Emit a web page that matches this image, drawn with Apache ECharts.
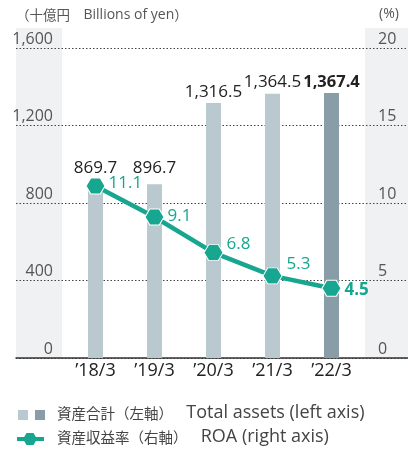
<!DOCTYPE html>
<html>
<head>
<meta charset="utf-8">
<script src="https://cdn.jsdelivr.net/npm/echarts@6/dist/echarts.min.js"></script>
<style>
html,body{margin:0;padding:0;background:#fff;}
#c{width:408px;height:450px;}
</style>
</head>
<body>
<div id="c"></div>
<script>
var categories = ['’18/3', '’19/3', '’20/3', '’21/3', '’22/3'];
var totalAssets = [869.7, 896.7, 1316.5, 1364.5, 1367.4];
var roa = [11.1, 9.1, 6.8, 5.3, 4.5];
var leftTicks = [0, 400, 800, 1200, 1600];
var rightTicks = [0, 5, 10, 15, 20];

var FONT = "'Open Sans', 'Noto Sans CJK JP', sans-serif";
var JFONT = "'Noto Sans CJK JP', sans-serif";
var TEAL = '#17a68f';
var BAR_LIGHT = '#bac9d0';
var BAR_DARK = '#889da7';
var BAND = '#f0f1f3';

var barLabelDist = [13, 8, 2, 3, 3];
var barData = totalAssets.map(function (v, i) {
  var last = i === totalAssets.length - 1;
  return {
    value: v,
    itemStyle: { color: last ? BAR_DARK : BAR_LIGHT },
    label: { distance: barLabelDist[i], fontWeight: last ? 'bold' : 'normal', fontSize: last ? 16.5 : 17 }
  };
});
var lineOffsets = [[-1, -3], [-1, -1], [-1, -8], [0, -12], [-1, 2]];
var lineData = roa.map(function (v, i) {
  var last = i === roa.length - 1;
  return {
    value: v,
    label: { offset: lineOffsets[i], fontWeight: last ? 'bold' : 'normal' }
  };
});

var hex = 'path://M0,5 L3,0 L9,0 L12,5 L9,10 L3,10 Z';

var legendRich = {
  j: { fontFamily: JFONT, fontSize: 14.5, fill: '#444', color: '#444' },
  e: { fontFamily: FONT, fontSize: 18, fill: '#444', color: '#444', padding: [0, 0, 0, 6] }
};

var chart = echarts.init(document.getElementById('c'), null, { renderer: 'canvas' });
chart.setOption({
  animation: false,
  textStyle: { fontFamily: FONT },
  grid: [
    { left: 66, right: 47, top: 48, height: 310, containLabel: false, outerBoundsMode: 'none' },
    { left: 16, right: 0, top: 48, height: 310, containLabel: false, outerBoundsMode: 'none' }
  ],
  graphic: [
    { type: 'rect', z: -10, shape: { x: 16, y: 28, width: 46, height: 330 }, style: { fill: BAND } },
    { type: 'rect', z: -10, shape: { x: 365, y: 28, width: 43, height: 330 }, style: { fill: BAND } },
    { type: 'text', x: 16, y: 8, style: { text: '{j|（十億円　}{e|Billions of yen}{j|）}', rich: {
      j: { fontFamily: JFONT, fontSize: 13.5, fill: '#555' }, e: { fontFamily: FONT, fontSize: 14, fill: '#555' } } } },
    { type: 'text', x: 379, y: 7, style: { text: '(%)', font: '14px ' + FONT, fill: '#555' } },
    { type: 'rect', shape: { x: 18, y: 410, width: 10, height: 10 }, style: { fill: BAR_LIGHT } },
    { type: 'rect', shape: { x: 35, y: 410, width: 10, height: 10 }, style: { fill: BAR_DARK } },
    { type: 'text', x: 57, y: 404, style: { text: '{j|資産合計（左軸）　}{e|Total assets (left axis)}', rich: legendRich } },
    { type: 'line', shape: { x1: 17, y1: 439, x2: 44, y2: 439 }, style: { stroke: TEAL, lineWidth: 4 } },
    { type: 'polygon', shape: { points: [[23, 439], [26.5, 433], [33.5, 433], [37, 439], [33.5, 445], [26.5, 445]] }, style: { fill: TEAL } },
    { type: 'text', x: 57, y: 428, style: { text: '{j|資産収益率（右軸）　}{e|ROA (right axis)}', rich: legendRich } }
  ],
  xAxis: [
    {
      type: 'category', gridIndex: 0, data: categories,
      axisLine: { show: false }, axisTick: { show: false },
      axisLabel: { color: '#222', fontSize: 18, margin: 4, fontFamily: FONT }
    },
    {
      type: 'value', gridIndex: 1, min: 0, max: 1,
      axisLine: { show: true, lineStyle: { color: '#333', width: 1.5 } },
      axisTick: { show: false }, axisLabel: { show: false }, splitLine: { show: false }
    }
  ],
  yAxis: [
    {
      type: 'value', gridIndex: 0, position: 'left', min: 0, max: 1600, interval: 400,
      axisLine: { show: false }, axisTick: { show: false }, splitLine: { show: false },
      axisLabel: {
        color: '#555', fontSize: 16, margin: 13, fontFamily: FONT, verticalAlign: 'bottom', padding: [0, 0, 1, 0],
        formatter: function (v) { return leftTicks.indexOf(v) >= 0 ? v.toLocaleString('en-US') : ''; }
      }
    },
    {
      type: 'value', gridIndex: 0, position: 'right', min: 0, max: 20, interval: 5,
      axisLine: { show: false }, axisTick: { show: false }, splitLine: { show: false },
      axisLabel: {
        color: '#555', fontSize: 16, margin: 17, fontFamily: FONT, verticalAlign: 'bottom', padding: [0, 0, 1, 0],
        formatter: function (v) { return rightTicks.indexOf(v) >= 0 ? String(v) : ''; }
      }
    },
    {
      type: 'value', gridIndex: 1, min: 0, max: 1600, interval: 400,
      axisLine: { show: false }, axisTick: { show: false }, axisLabel: { show: false },
      splitLine: { show: true, lineStyle: { color: '#444', type: [1.5, 2], width: 1 } }
    }
  ],
  series: [
    {
      type: 'bar', xAxisIndex: 0, yAxisIndex: 0, data: barData, barWidth: 15, z: 2,
      label: { show: true, position: 'top', color: '#222', fontSize: 17, fontFamily: FONT,
        formatter: function (p) { return p.value.toLocaleString('en-US', { minimumFractionDigits: 1 }); } }
    },
    {
      type: 'line', xAxisIndex: 0, yAxisIndex: 1, data: lineData, z: 5,
      symbol: hex, symbolSize: [19, 16], symbolKeepAspect: false,
      lineStyle: { color: TEAL, width: 4.5 },
      itemStyle: { color: TEAL, borderColor: '#fff', borderWidth: 1 },
      label: { show: true, position: 'right', distance: 4, color: TEAL, fontSize: 17, fontFamily: FONT,
        formatter: function (p) { return p.value.toFixed(1); } }
    }
  ]
});
</script>
</body>
</html>
